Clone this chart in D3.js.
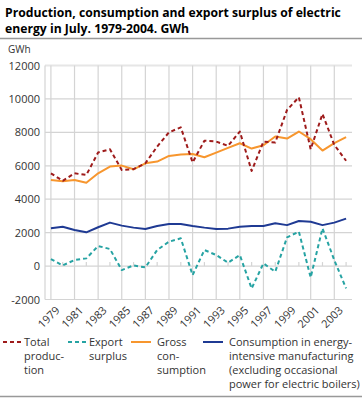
<!DOCTYPE html>
<html>
<head>
<meta charset="utf-8">
<script src="https://cdn.jsdelivr.net/npm/d3@7/dist/d3.min.js"></script>
<style>
  body { margin: 0; background: #fff; }
  svg { display: block; font-family: "Open Sans", sans-serif; }
</style>
</head>
<body>
<div id="chart"></div>
<script>
// Years on the x axis
const years = d3.range(1979, 2005);

// July values, GWh
const totalProduction = [5550, 5100, 5550, 5450, 6800, 6990, 5750, 5800, 6150, 7150, 8000, 8300, 6200,
  7500, 7450, 7190, 8050, 5690, 7450, 7390, 9340, 10100, 6990, 9100, 7250, 6300];
const exportSurplus = [420, 40, 360, 460, 1200, 1020, -240, 40, -80, 960, 1460, 1660, -540,
  960, 660, 200, 660, -1340, 160, -340, 1720, 2060, -680, 2260, 360, -1340];
const grossConsumption = [5150, 5070, 5150, 4990, 5550, 5950, 6010, 5790, 6150, 6250, 6590, 6670, 6710,
  6510, 6790, 7070, 7350, 7030, 7230, 7750, 7630, 8050, 7590, 6910, 7350, 7710];
const energyIntensive = [2260, 2350, 2160, 2020, 2320, 2600, 2420, 2300, 2220, 2400, 2520, 2520, 2400,
  2300, 2220, 2240, 2350, 2400, 2400, 2560, 2450, 2700, 2650, 2450, 2600, 2840];

const yTicks = [-2000, 0, 2000, 4000, 6000, 8000, 10000, 12000];
const xTickYears = years.filter(y => y % 2 === 1);

const series = [
  { name: ['Total', 'produc-', 'tion'], values: totalProduction, color: '#9e1b1b', dash: '4,3', lx: 3 },
  { name: ['Export', 'surplus'], values: exportSurplus, color: '#26a3a3', dash: '4,3', lx: 68 },
  { name: ['Gross', 'con-', 'sumption'], values: grossConsumption, color: '#f7962e', dash: null, lx: 131 },
  { name: ['Consumption in energy-', 'intensive manufacturing', '(excluding occasional', 'power for electric boilers)'],
    values: energyIntensive, color: '#1f3a93', dash: null, lx: 203 }
];

const W = 362, H = 398;
const margin = { left: 45, right: 10, top: 65.5, bottom: 98.5 };

const svg = d3.select('#chart').append('svg')
  .attr('width', W).attr('height', H);

// Title
const title = ['Production, consumption and export surplus of electric', 'energy in July. 1979-2004. GWh'];
svg.append('g').selectAll('text').data(title).enter().append('text')
  .attr('x', 5).attr('y', (d, i) => 17 + i * 16)
  .style('font-size', '12.2px').style('font-weight', 'bold').attr('fill', '#000')
  .text(d => d);
svg.append('line').attr('x1', 0).attr('x2', W).attr('y1', 38.5).attr('y2', 38.5)
  .attr('stroke', '#999').attr('stroke-width', 1.5);

svg.append('text').attr('x', 8).attr('y', 53)
  .style('font-size', '10px').attr('fill', '#333').text('GWh');

const x = d3.scaleBand().domain(years).range([margin.left, W - margin.right]);
const xc = yr => x(yr) + x.bandwidth() / 2;
const y = d3.scaleLinear().domain([-2000, 12000]).range([H - margin.bottom, margin.top]);

// Horizontal grid
svg.append('g').selectAll('line').data(yTicks).enter().append('line')
  .attr('x1', margin.left).attr('x2', W - margin.right)
  .attr('y1', d => y(d)).attr('y2', d => y(d))
  .attr('stroke', d => d === 12000 ? '#e6e6e6' : '#d4d4d4')
  .attr('stroke-width', d => d === 12000 ? 2 : 1.2);

// Vertical grid at odd years
svg.append('g').selectAll('line').data(xTickYears).enter().append('line')
  .attr('x1', d => xc(d)).attr('x2', d => xc(d))
  .attr('y1', y(12000)).attr('y2', y(-2000))
  .attr('stroke', '#d4d4d4').attr('stroke-width', 1.2);

// Left axis line
svg.append('line').attr('x1', margin.left).attr('x2', margin.left)
  .attr('y1', y(12000)).attr('y2', y(-2000))
  .attr('stroke', '#d4d4d4').attr('stroke-width', 1.2);

// Small ticks on the zero line at even years
svg.append('g').selectAll('line').data(years.filter(d => d % 2 === 0)).enter().append('line')
  .attr('x1', d => xc(d)).attr('x2', d => xc(d))
  .attr('y1', y(0)).attr('y2', y(0) - 4)
  .attr('stroke', '#d4d4d4').attr('stroke-width', 1.2);

// Y tick labels
svg.append('g').selectAll('text').data(yTicks).enter().append('text')
  .attr('x', 40).attr('y', d => y(d) + 4)
  .attr('text-anchor', 'end')
  .style('font-size', '11px').attr('fill', '#333')
  .text(d => d);

// X tick labels, rotated
svg.append('g').selectAll('text').data(xTickYears).enter().append('text')
  .attr('transform', d => `translate(${xc(d) + 4},${y(-2000) + 6}) rotate(-45)`)
  .attr('text-anchor', 'end')
  .attr('dy', '0.7em')
  .style('font-size', '11px').attr('fill', '#333')
  .text(d => d);

// Lines
const line = d3.line().x((d, i) => xc(years[i])).y(d => y(d));
const drawOrder = [3, 2, 1, 0];
drawOrder.forEach(k => {
  const s = series[k];
  svg.append('path').datum(s.values)
    .attr('d', line)
    .attr('fill', 'none')
    .attr('stroke', s.color)
    .attr('stroke-width', 2)
    .attr('stroke-linejoin', 'round')
    .attr('stroke-dasharray', s.dash);
});

// Legend
const legY = 342;
series.forEach(s => {
  svg.append('line')
    .attr('x1', s.lx).attr('x2', s.lx + 20)
    .attr('y1', legY).attr('y2', legY)
    .attr('stroke', s.color).attr('stroke-width', 2)
    .attr('stroke-dasharray', s.dash);
  const tx = s.lx + (s.dash ? 21 : 26);
  const t = svg.append('text')
    .attr('x', tx).attr('y', legY + 4)
    .style('font-size', '11px').attr('fill', '#333');
  s.name.forEach((ln, i) => {
    t.append('tspan').attr('x', tx).attr('dy', i === 0 ? 0 : 14).text(ln);
  });
});

svg.append('line').attr('x1', 0).attr('x2', W).attr('y1', 396.5).attr('y2', 396.5)
  .attr('stroke', '#999').attr('stroke-width', 1.5);
</script>
</body>
</html>
